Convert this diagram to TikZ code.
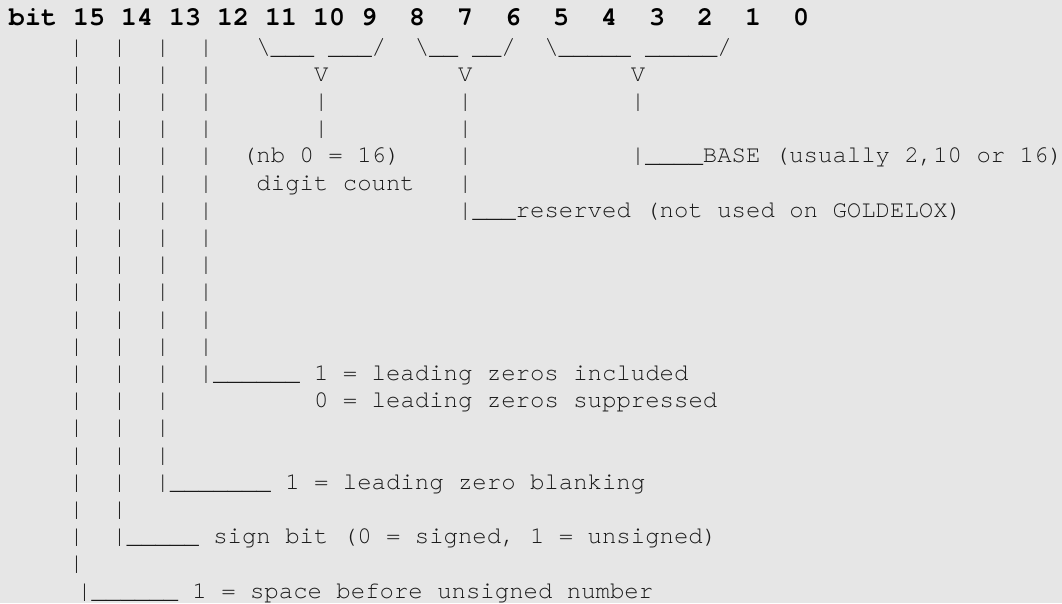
\documentclass[tikz,border=0pt]{standalone}
\usepackage{fontspec}
\newfontfamily\monofont{texgyrecursor}[Extension=.otf, UprightFont=*-regular, BoldFont=*-bold]
\definecolor{bgcol}{HTML}{E6E6E6}
\definecolor{txtcol}{HTML}{1A1A1A}
\tikzset{
  bodyline/.style={anchor=base west, inner sep=0pt, outer sep=0pt, text=txtcol,
    font=\monofont\fontsize{24pt}{27.2pt}\selectfont\frenchspacing},
  headline/.style={anchor=base west, inner sep=0pt, outer sep=0pt, text=black,
    font=\monofont\bfseries\fontsize{26.67pt}{30pt}\selectfont\frenchspacing}
}
\begin{document}
\begin{tikzpicture}[x=1pt,y=1pt]
\fill[bgcol] (0,0) rectangle (1062,-603);
\useasboundingbox (0,0) rectangle (1062,-603);
\node[headline] (l1) at (9,-25.5) {bit~15~14~13~12~11~10~9~~8~~7~~6~~5~~4~~3~~2~~1~~0};
\node[bodyline] (l2) at (11.7,{-54-0*27.2}) {~~~~|~~|~~|~~|~~~\textbackslash\_\_\_~\_\_\_/~~\textbackslash\_\_~\_\_/~~\textbackslash\_\_\_\_\_~\_\_\_\_\_/};
\node[bodyline] (l3) at (11.7,{-54-1*27.2}) {~~~~|~~|~~|~~|~~~~~~~V~~~~~~~~~V~~~~~~~~~~~V};
\node[bodyline] (l4) at (11.7,{-54-2*27.2}) {~~~~|~~|~~|~~|~~~~~~~|~~~~~~~~~|~~~~~~~~~~~|};
\node[bodyline] (l5) at (11.7,{-54-3*27.2}) {~~~~|~~|~~|~~|~~~~~~~|~~~~~~~~~|};
\node[bodyline] (l6) at (11.7,{-54-4*27.2}) {~~~~|~~|~~|~~|~~(nb~0~=~16)~~~~|~~~~~~~~~~~|\_\_\_\_BASE~(usually~2,10~or~16)};
\node[bodyline] (l7) at (11.7,{-54-5*27.2}) {~~~~|~~|~~|~~|~~~digit~count~~~|};
\node[bodyline] (l8) at (11.7,{-54-6*27.2}) {~~~~|~~|~~|~~|~~~~~~~~~~~~~~~~~|\_\_\_reserved~(not~used~on~GOLDELOX)};
\node[bodyline] (l9) at (11.7,{-54-7*27.2}) {~~~~|~~|~~|~~|};
\node[bodyline] (l10) at (11.7,{-54-8*27.2}) {~~~~|~~|~~|~~|};
\node[bodyline] (l11) at (11.7,{-54-9*27.2}) {~~~~|~~|~~|~~|};
\node[bodyline] (l12) at (11.7,{-54-10*27.2}) {~~~~|~~|~~|~~|};
\node[bodyline] (l13) at (11.7,{-54-11*27.2}) {~~~~|~~|~~|~~|};
\node[bodyline] (l14) at (11.7,{-54-12*27.2}) {~~~~|~~|~~|~~|\_\_\_\_\_\_~1~=~leading~zeros~included};
\node[bodyline] (l15) at (11.7,{-54-13*27.2}) {~~~~|~~|~~|~~~~~~~~~~0~=~leading~zeros~suppressed};
\node[bodyline] (l16) at (11.7,{-54-14*27.2}) {~~~~|~~|~~|};
\node[bodyline] (l17) at (11.7,{-54-15*27.2}) {~~~~|~~|~~|};
\node[bodyline] (l18) at (11.7,{-54-16*27.2}) {~~~~|~~|~~|\_\_\_\_\_\_\_~1~=~leading~zero~blanking};
\node[bodyline] (l19) at (11.7,{-54-17*27.2}) {~~~~|~~|};
\node[bodyline] (l20) at (11.7,{-54-18*27.2}) {~~~~|~~|\_\_\_\_\_~sign~bit~(0~=~signed,~1~=~unsigned)};
\node[bodyline] (l21) at (11.7,{-54-19*27.2}) {~~~~|};
\node[bodyline] (l22) at (19.7,{-54-20*27.2}) {~~~~|\_\_\_\_\_\_~1~=~space~before~unsigned~number};
\end{tikzpicture}
\end{document}
